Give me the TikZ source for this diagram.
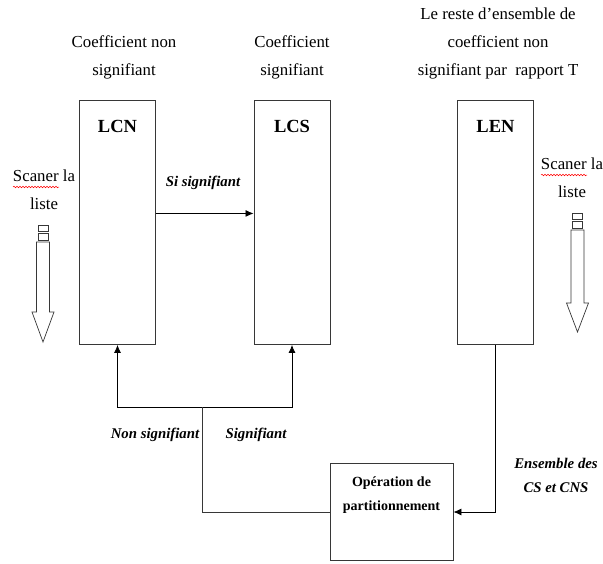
\documentclass[tikz,border=0pt]{standalone}
\usepackage{fontspec}
\setmainfont{Liberation Serif}
\usetikzlibrary{positioning,calc}
\usetikzlibrary{arrows.meta,decorations.pathmorphing}
\definecolor{LineGray}{RGB}{55,55,55}
\tikzset{
	liste/.style={draw=LineGray,line width=0.9pt,minimum width=76pt,minimum height=244pt,anchor=north,inner sep=0pt},
	titre/.style={font=\fontsize{18.5}{20}\selectfont\bfseries,inner sep=0pt},
	note/.style={align=center,font=\fontsize{16.8}{28}\selectfont,inner sep=0pt},
	cond/.style={font=\fontsize{14.8}{24}\selectfont\bfseries\itshape,align=center,inner sep=0pt},
	fl/.style={draw=black,line width=0.8pt,-{Latex[length=8pt,width=7pt]}},
	trait/.style={draw=LineGray,line width=0.8pt},
	creux/.style={draw=LineGray,line width=0.7pt,fill=white},
	faute/.style={draw=red,line width=0.5pt,decorate,decoration={snake,amplitude=0.8pt,segment length=3pt}},
}
\begin{document}
\begin{tikzpicture}[x=1pt,y=-1pt]
	\useasboundingbox (0,0) rectangle (603,563);
	% les trois listes
	\node[liste] (lcn) at (117.5,100) {};
	\node[liste] (lcs) at (292,100) {};
	\node[liste] (len) at (495.5,100) {};
	\node[titre] (lcnlab) at (117.5,126) {LCN};
	\node[titre] (lcslab) at (292,126) {LCS};
	\node[titre] (lenlab) at (495.5,126) {LEN};
	\node[note] (tcn) at (124,57) {Coefficient non\\signifiant};
	\node[note] (tcs) at (292,57) {Coefficient\\signifiant};
	\node[note] (ten) at (498,43) {Le reste d’ensemble de\\coefficient non\\signifiant par~ rapport T};
	% balayage
	\node[note] (scang) at (44,190) {Scaner la\\liste};
	\node[note] (scand) at (572,178) {Scaner la\\liste};
	\draw[faute] (13,187) -- (59,187);
	\draw[faute] (541,175) -- (587,175);
	\foreach \cx/\ya/\yb/\yc in {43/242/312/342,577.5/230/303/332}{
		\draw[creux] ({\cx-5},{\ya-17}) rectangle ({\cx+5},{\ya-11});
		\draw[creux] ({\cx-5},{\ya-9}) rectangle ({\cx+5},{\ya-2});
		\draw[creux] ({\cx-6.5},\ya) -- ({\cx+6.5},\ya) -- ({\cx+6.5},\yb) -- ({\cx+11},\yb)
			-- (\cx,\yc) -- ({\cx-11},\yb) -- ({\cx-6.5},\yb) -- cycle;
	}
	% operation
	\node[draw=LineGray,line width=0.9pt,minimum width=123pt,minimum height=97pt,inner sep=0pt] (part) at (391.5,512) {};
	\node[font=\fontsize{14}{24}\selectfont\bfseries,align=center,inner sep=0pt] (partlab) at (391.5,495) {Opération de\\partitionnement};
	\coordinate (split) at (202,407);
	\draw[fl] ([yshift=9pt]lcn.east) -- ([yshift=9pt]lcs.west);
	\node[cond] (si) at (203,183) {Si signifiant};
	\draw[fl] (split) -| (lcn.south);
	\draw[fl] (split) -| (lcs.south);
	\draw[trait] (part.west) -| (split);
	\draw[fl] (len.south) |- (part.east);
	\node[cond] (nonsig) at (155,435) {Non signifiant};
	\node[cond] (sig) at (256,435) {Signifiant};
	\node[cond] (ens) at (556,475) {Ensemble des\\CS et CNS};
\end{tikzpicture}
\end{document}
